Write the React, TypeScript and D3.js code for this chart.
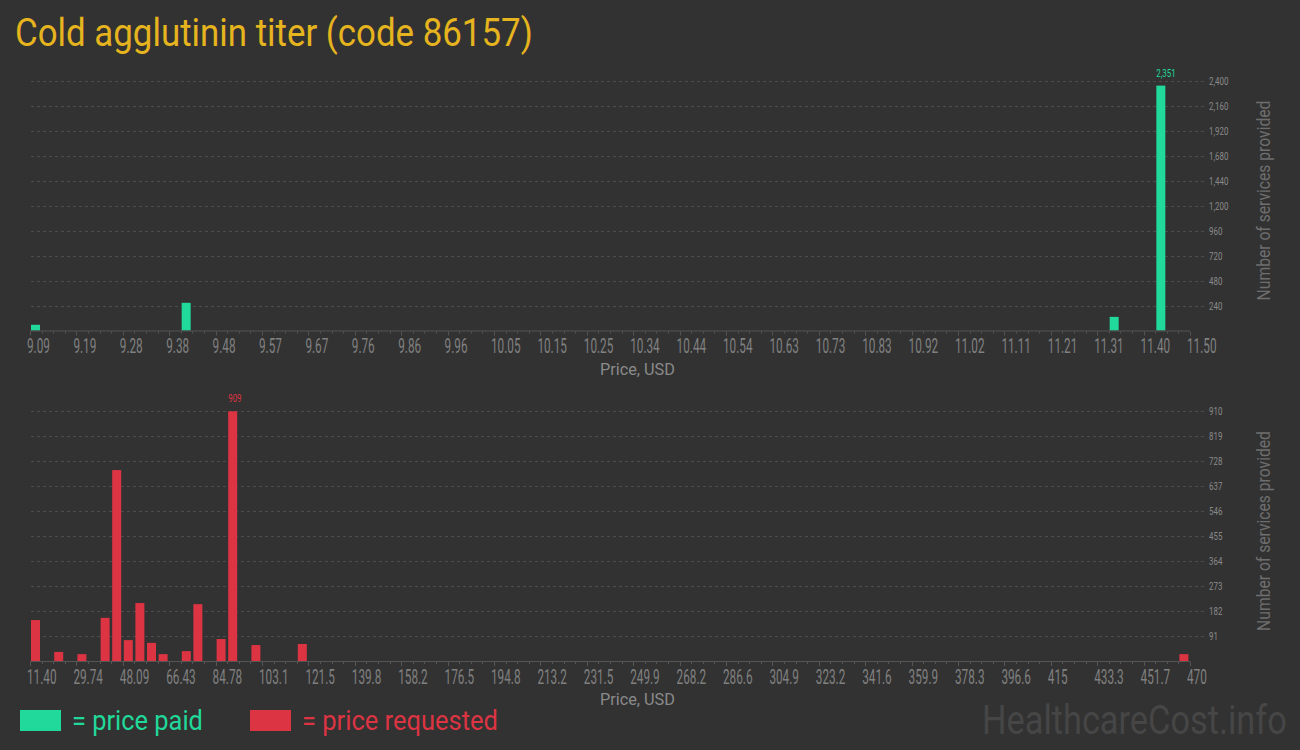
import React from 'react';
import * as d3 from 'd3';

const TITLE = 'Cold agglutinin titer (code 86157)';

// price paid: bin start price (USD) and number of services
const paidPrices = [9.09, 9.403, 11.331, 11.428];
const paidCounts = [55, 266, 131, 2351];
const paidTicks = ['9.09', '9.19', '9.28', '9.38', '9.48', '9.57', '9.67', '9.76', '9.86', '9.96', '10.05', '10.15', '10.25',
  '10.34', '10.44', '10.54', '10.63', '10.73', '10.83', '10.92', '11.02', '11.11', '11.21', '11.31', '11.40', '11.50'];

// price requested
const requestedPrices = [11.40, 20.57, 29.74, 38.92, 43.50, 48.09, 52.67, 57.26, 61.85, 71.02, 75.60, 84.78, 89.36, 98.53, 116.88, 465.41];
const requestedCounts = [149, 33, 25, 157, 695, 76, 211, 66, 25, 36, 207, 80, 909, 58, 62, 25];
const requestedTicks = ['11.40', '29.74', '48.09', '66.43', '84.78', '103.1', '121.5', '139.8', '158.2', '176.5', '194.8', '213.2',
  '231.5', '249.9', '268.2', '286.6', '304.9', '323.2', '341.6', '359.9', '378.3', '396.6', '415', '433.3', '451.7', '470'];

const GREEN = '#21d99a';
const RED = '#dc3443';
const BINS = 100;

interface PanelOpts {
  prices: number[];
  counts: number[];
  ticks: string[];
  domain: [number, number];
  yMax: number;
  yStep: number;
  base: number;
  color: string;
}

type Sel = d3.Selection<SVGSVGElement, unknown, null, undefined>;

// squeeze a text horizontally to a given width (condensed look, no web fonts)
function fitText(t: d3.Selection<SVGTextElement, unknown, null, undefined>, x: number, y: number, w: number): void {
  const natural = (t.node() as SVGTextElement).getComputedTextLength() || w;
  t.attr('transform', `translate(${x},${y}) scale(${w / natural},1)`);
}

export default class App extends React.Component {
  svgRef = React.createRef<SVGSVGElement>();

  width = 1300;
  height = 750;
  left = 30;
  right = 1190;
  plotHeight = 250;

  drawPanel(svg: Sel, o: PanelOpts): void {
    const x = d3.scaleLinear().domain(o.domain).range([this.left, this.right]);
    const y = d3.scaleLinear().domain([0, o.yMax]).range([o.base, o.base - this.plotHeight]);
    const binW = (o.domain[1] - o.domain[0]) / BINS;
    const binPx = (this.right - this.left) / BINS;
    const g = svg.append('g');

    // grid + y labels
    const yTicks = d3.range(1, 11).map(i => i * o.yStep);
    g.selectAll('line.grid').data(yTicks).enter().append('line')
      .attr('x1', this.left + 1).attr('x2', 1205)
      .attr('y1', d => Math.round(y(d)) + 0.5).attr('y2', d => Math.round(y(d)) + 0.5)
      .attr('stroke', '#4c4c4c').attr('stroke-dasharray', '3,3');
    g.selectAll('text.ylab').data(yTicks).enter().append('text')
      .attr('transform', d => `translate(1209,${y(d) + 4}) scale(0.72,1)`)
      .attr('fill', '#8a8a8a').attr('font-size', 11).attr('font-family', 'Roboto, sans-serif')
      .text(d => d3.format(',')(d));

    // bars
    const data = o.prices.map((p, i) => ({ p, c: o.counts[i] }));
    g.selectAll('rect.bar').data(data).enter().append('rect')
      .attr('x', d => x(d.p) + 1)
      .attr('width', binPx - 2.6)
      .attr('y', d => y(d.c))
      .attr('height', d => o.base - y(d.c))
      .attr('fill', o.color);

    // max label
    const mx = data.reduce((a, b) => (b.c > a.c ? b : a));
    g.append('text')
      .attr('transform', `translate(${x(mx.p) + 1},${y(mx.c) - 9}) scale(0.72,1)`)
      .attr('fill', o.color).attr('font-size', 11).attr('font-family', 'Roboto, sans-serif')
      .text(d3.format(',')(mx.c));

    // axis
    g.append('line').attr('x1', this.left).attr('x2', this.right)
      .attr('y1', o.base + 0.5).attr('y2', o.base + 0.5).attr('stroke', '#555');
    const minor = d3.range(0, BINS + 1);
    g.selectAll('line.tick').data(minor).enter().append('line')
      .attr('x1', i => Math.round(x(o.domain[0] + i * binW)) + 0.5)
      .attr('x2', i => Math.round(x(o.domain[0] + i * binW)) + 0.5)
      .attr('y1', o.base + 1).attr('y2', i => o.base + (i % 4 === 0 ? 5 : 3))
      .attr('stroke', '#555');
    g.selectAll('text.xlab').data(o.ticks).enter().append('text')
      .attr('transform', (_d, i) => `translate(${x(o.domain[0] + i * 4 * binW) - 3},${o.base + 22.5}) scale(0.56,1)`)
      .attr('fill', '#808080').attr('font-size', 21).attr('font-family', 'Roboto, sans-serif')
      .text(d => d);

    const xTitle = g.append('text')
      .attr('fill', '#8a8a8a').attr('font-size', 17).attr('font-family', 'Roboto, sans-serif')
      .text('Price, USD');
    fitText(xTitle, 600, o.base + 44, 75);

    g.append('text')
      .attr('transform', `translate(1270,${o.base - 130}) rotate(-90) scale(0.87,1)`)
      .attr('text-anchor', 'middle')
      .attr('fill', '#6e6e6e').attr('font-size', 18).attr('font-family', 'Roboto, sans-serif')
      .text('Number of services provided');
  }

  setupDom(): void {
    const el = this.svgRef.current;
    if (!el) return;
    while (el.firstChild) el.removeChild(el.firstChild);
    const svg = d3.select(el);

    svg.append('rect').attr('width', this.width).attr('height', this.height).attr('fill', '#323232');

    const title = svg.append('text')
      .attr('fill', '#e6b41e').attr('font-size', 38).attr('font-family', 'Roboto, sans-serif')
      .text(TITLE);
    fitText(title, 15, 46, 518);

    this.drawPanel(svg, {
      prices: paidPrices, counts: paidCounts, ticks: paidTicks,
      domain: [9.09, 11.50], yMax: 2400, yStep: 240, base: 330.5, color: GREEN,
    });
    this.drawPanel(svg, {
      prices: requestedPrices, counts: requestedCounts, ticks: requestedTicks,
      domain: [11.40, 470], yMax: 910, yStep: 91, base: 661, color: RED,
    });

    // legend
    const legend = [
      { label: '= price paid', color: GREEN, x: 20, w: 131 },
      { label: '= price requested', color: RED, x: 250, w: 196 },
    ];
    legend.forEach(l => {
      svg.append('rect').attr('x', l.x).attr('y', 710).attr('width', 41).attr('height', 21).attr('fill', l.color);
      const t = svg.append('text')
        .attr('fill', l.color).attr('font-size', 28).attr('font-family', 'Roboto, sans-serif')
        .text(l.label);
      fitText(t, l.x + 52, 730, l.w);
    });

    const mark = svg.append('text')
      .attr('fill', '#464646').attr('font-size', 40).attr('font-family', 'Roboto, sans-serif')
      .text('HealthcareCost.info');
    fitText(mark, 982, 734, 305);
  }

  componentDidMount(): void {
    this.setupDom();
  }

  render(): React.ReactNode {
    return (
      <svg
        ref={this.svgRef}
        width={this.width}
        height={this.height}
        style={{ position: 'absolute', left: 0, top: 0, display: 'block' }}
      />
    );
  }
}
